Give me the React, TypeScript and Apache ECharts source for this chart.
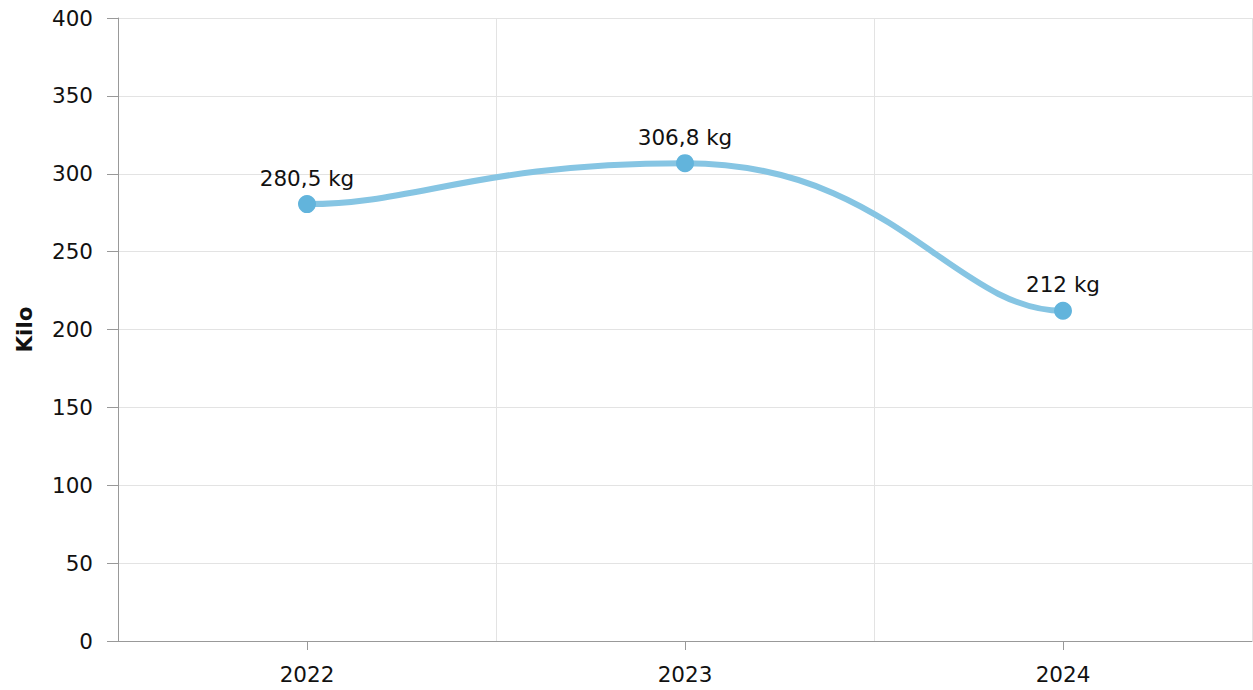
import React, { useEffect, useRef } from "react";
import * as echarts from "echarts";

const categories = ["2022", "2023", "2024"];
const values = [280.5, 306.8, 212];
const yTicks = { min: 0, max: 400, interval: 50 };
const yAxisName = "Kilo";
const unit = "kg";

const FONT = "DejaVu Sans, Verdana, sans-serif";
const FS = 21.5;
const LINE_COLOR = "#86c5e3";
const POINT_COLOR = "#62b4dc";
// spline handle lengths (fraction of segment width), horizontal tangents at each point
const END_HANDLE = 0.29;
const MID_HANDLE = 0.55;

export default function App() {
  const ref = useRef<HTMLDivElement>(null);
  useEffect(() => {
    if (!ref.current) return;
    const chart = echarts.init(ref.current, undefined, { renderer: "svg" });
    const last = values.length - 1;
    chart.setOption({
      animation: false,
      backgroundColor: "#ffffff",
      textStyle: { fontFamily: FONT },
      grid: { left: 118, right: 1, top: 18, bottom: 49, containLabel: false },
      xAxis: {
        type: "category",
        data: categories,
        boundaryGap: true,
        axisLine: { show: true, lineStyle: { color: "#999999", width: 1 } },
        axisTick: { show: true, alignWithLabel: true, length: 9, lineStyle: { color: "#999999" } },
        axisLabel: { color: "#111111", fontSize: FS, margin: 22, fontFamily: FONT },
        splitLine: { show: true, lineStyle: { color: "#e3e3e3", width: 1 } },
      },
      yAxis: {
        type: "value",
        min: yTicks.min,
        max: yTicks.max,
        interval: yTicks.interval,
        name: yAxisName,
        nameLocation: "middle",
        nameGap: 83,
        nameRotate: 90,
        nameTextStyle: { color: "#111111", fontSize: FS, fontWeight: "bold", fontFamily: FONT },
        axisLine: { show: true, lineStyle: { color: "#999999", width: 1 } },
        axisTick: { show: true, length: 11, lineStyle: { color: "#999999" } },
        axisLabel: { color: "#111111", fontSize: FS, margin: 25, fontFamily: FONT },
        splitLine: { show: true, lineStyle: { color: "#e3e3e3", width: 1 } },
      },
      series: [
        {
          type: "custom",
          z: 1,
          data: values.map((v, i) => [i, v]),
          encode: { x: 0, y: 1 },
          renderItem: (params: any, api: any) => {
            const i = params.dataIndex;
            if (i === 0) return { type: "group", children: [] };
            const p0 = api.coord([i - 1, values[i - 1]]);
            const p1 = api.coord([i, values[i]]);
            const h = p1[0] - p0[0];
            const a = (i - 1 === 0 ? END_HANDLE : MID_HANDLE) * h;
            const b = (i === last ? END_HANDLE : MID_HANDLE) * h;
            return {
              type: "bezierCurve",
              shape: {
                x1: p0[0],
                y1: p0[1],
                cpx1: p0[0] + a,
                cpy1: p0[1],
                cpx2: p1[0] - b,
                cpy2: p1[1],
                x2: p1[0],
                y2: p1[1],
              },
              style: { stroke: LINE_COLOR, lineWidth: 6, fill: null, lineCap: "round" },
            };
          },
        },
        {
          type: "line",
          z: 3,
          data: values,
          symbol: "circle",
          symbolSize: 18,
          lineStyle: { width: 0, opacity: 0 },
          itemStyle: { color: POINT_COLOR },
          label: {
            show: true,
            position: "top",
            distance: 6,
            color: "#111111",
            fontSize: FS,
            fontFamily: FONT,
            formatter: (p: any) => String(p.value).replace(".", ",") + " " + unit,
          },
        },
      ],
    });
    return () => chart.dispose();
  }, []);
  return (
    <div
      ref={ref}
      style={{ position: "fixed", left: 0, top: 0, width: 1253, height: 690 }}
    />
  );
}
